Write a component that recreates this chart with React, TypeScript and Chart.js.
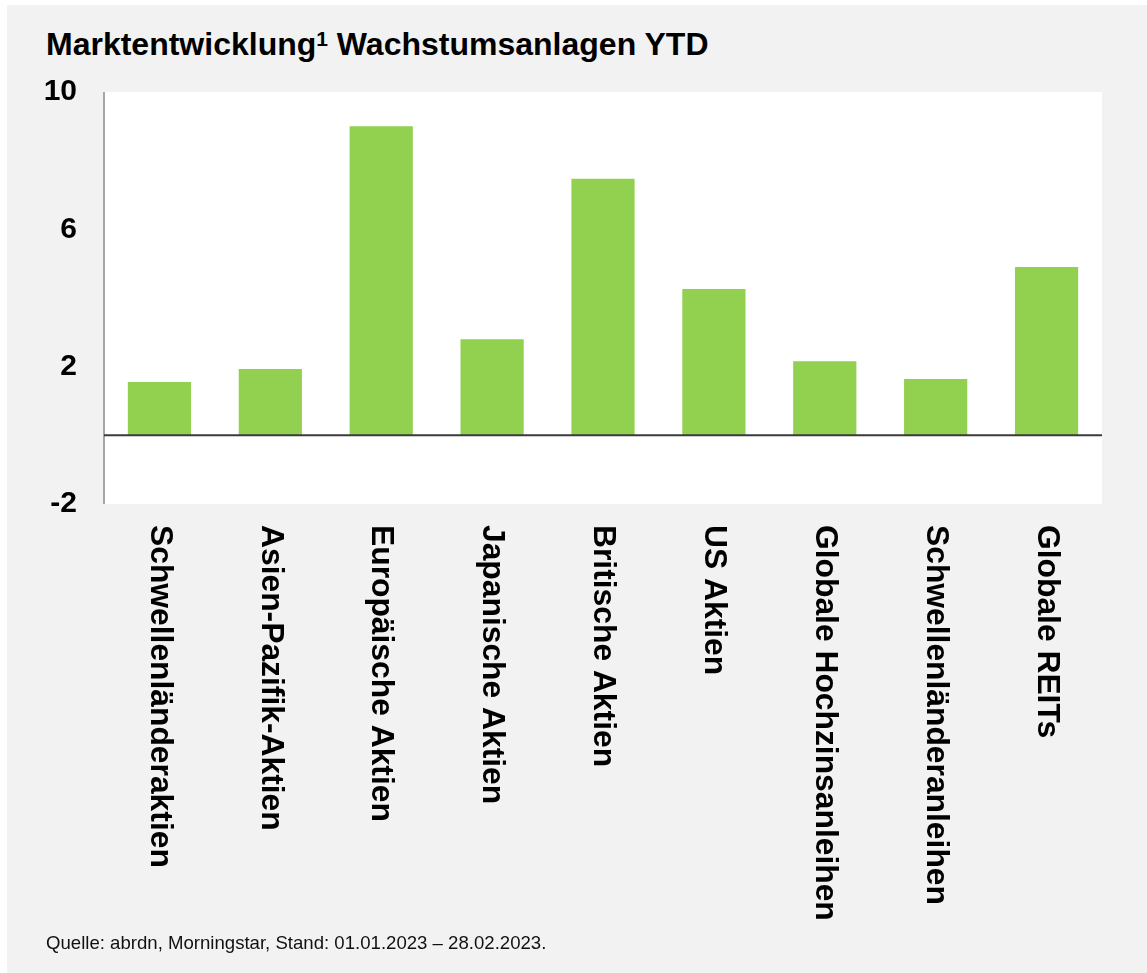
import React, { useEffect, useRef } from "react";
import { Chart, registerables } from "chart.js";

Chart.register(...registerables);

const categories = [
  "Schwellenländeraktien",
  "Asien-Pazifik-Aktien",
  "Europäische Aktien",
  "Japanische Aktien",
  "Britische Aktien",
  "US Aktien",
  "Globale Hochzinsanleihen",
  "Schwellenländeranleihen",
  "Globale REITs",
];

const values = [1.55, 1.93, 9.0, 2.8, 7.47, 4.26, 2.16, 1.64, 4.9];

const yMin = -2;
const yMax = 10;
const yStep = 4;

const FONT = '"Liberation Sans", Arial, Helvetica, sans-serif';

const decorPlugin = {
  id: "decor",
  beforeDraw(chart: any) {
    const { ctx, chartArea } = chart;
    ctx.save();
    ctx.fillStyle = "#ffffff";
    ctx.fillRect(chartArea.left, chartArea.top, chartArea.right - chartArea.left, chartArea.bottom - chartArea.top);
    ctx.restore();
  },
  afterDatasetsDraw(chart: any) {
    const { ctx, chartArea, scales } = chart;
    const y0 = scales.y.getPixelForValue(0);
    ctx.save();
    ctx.strokeStyle = "#a6a6a6";
    ctx.lineWidth = 2;
    ctx.beginPath();
    ctx.moveTo(chartArea.left, chartArea.top);
    ctx.lineTo(chartArea.left, chartArea.bottom);
    ctx.stroke();
    ctx.strokeStyle = "#3a3a3a";
    ctx.lineWidth = 2;
    ctx.beginPath();
    ctx.moveTo(chartArea.left, y0);
    ctx.lineTo(chartArea.right, y0);
    ctx.stroke();
    ctx.restore();
  },
  afterDraw(chart: any) {
    const { ctx, chartArea, scales } = chart;
    ctx.save();
    ctx.fillStyle = "#000000";
    ctx.font = `bold 31.8px ${FONT}`;
    ctx.textAlign = "left";
    ctx.textBaseline = "middle";
    categories.forEach((label, i) => {
      const x = scales.x.getPixelForValue(i);
      ctx.save();
      ctx.translate(x, chartArea.bottom + 21);
      ctx.rotate(Math.PI / 2);
      ctx.fillText(label, 0, 0);
      ctx.restore();
    });
    ctx.restore();
  },
};

export default function App() {
  const ref = useRef<HTMLCanvasElement | null>(null);

  useEffect(() => {
    if (!ref.current) return;
    const chart = new Chart(ref.current, {
      type: "bar",
      data: {
        labels: categories,
        datasets: [
          {
            data: values,
            backgroundColor: "#92d050",
            borderWidth: 0,
            categoryPercentage: 1,
            barPercentage: 0.57,
          },
        ],
      },
      options: {
        responsive: false,
        animation: false,
        devicePixelRatio: 1,
        layout: { padding: { left: 0, top: 87, right: 45, bottom: 0 } },
        plugins: {
          legend: { display: false },
          tooltip: { enabled: false },
          title: { display: false },
        },
        scales: {
          x: {
            grid: { display: false, drawTicks: false },
            border: { display: false },
            ticks: { display: false },
            afterFit: (s: any) => {
              s.height = 469;
            },
          },
          y: {
            min: yMin,
            max: yMax,
            grid: { display: false, drawTicks: false },
            border: { display: false },
            ticks: {
              stepSize: yStep,
              padding: 27,
              color: "#000000",
              font: { family: FONT, size: 30, weight: "bold" },
            },
            afterFit: (s: any) => {
              s.width = 97;
            },
          },
        },
      },
      plugins: [decorPlugin],
    });
    return () => chart.destroy();
  }, []);

  return (
    <div
      style={{
        position: "absolute",
        left: 7,
        top: 5,
        width: 1140,
        height: 968,
        background: "#f2f2f2",
        fontFamily: FONT,
        color: "#000",
      }}
    >
      <div
        style={{
          position: "absolute",
          left: 39,
          top: 24,
          fontSize: 32,
          lineHeight: "31px",
          fontWeight: "bold",
          whiteSpace: "nowrap",
        }}
      >
        Marktentwicklung<sup style={{ fontSize: 21, verticalAlign: "top", lineHeight: "21px", position: "relative", top: -1 }}>1</sup> Wachstumsanlagen YTD
      </div>
      <canvas ref={ref} width={1140} height={968} style={{ position: "absolute", left: 0, top: 0 }} />
      <div
        style={{
          position: "absolute",
          left: 39,
          top: 929,
          fontSize: 18.6,
          lineHeight: "18px",
          whiteSpace: "nowrap",
          color: "#111",
        }}
      >
        Quelle: abrdn, Morningstar, Stand: 01.01.2023 – 28.02.2023.
      </div>
    </div>
  );
}
